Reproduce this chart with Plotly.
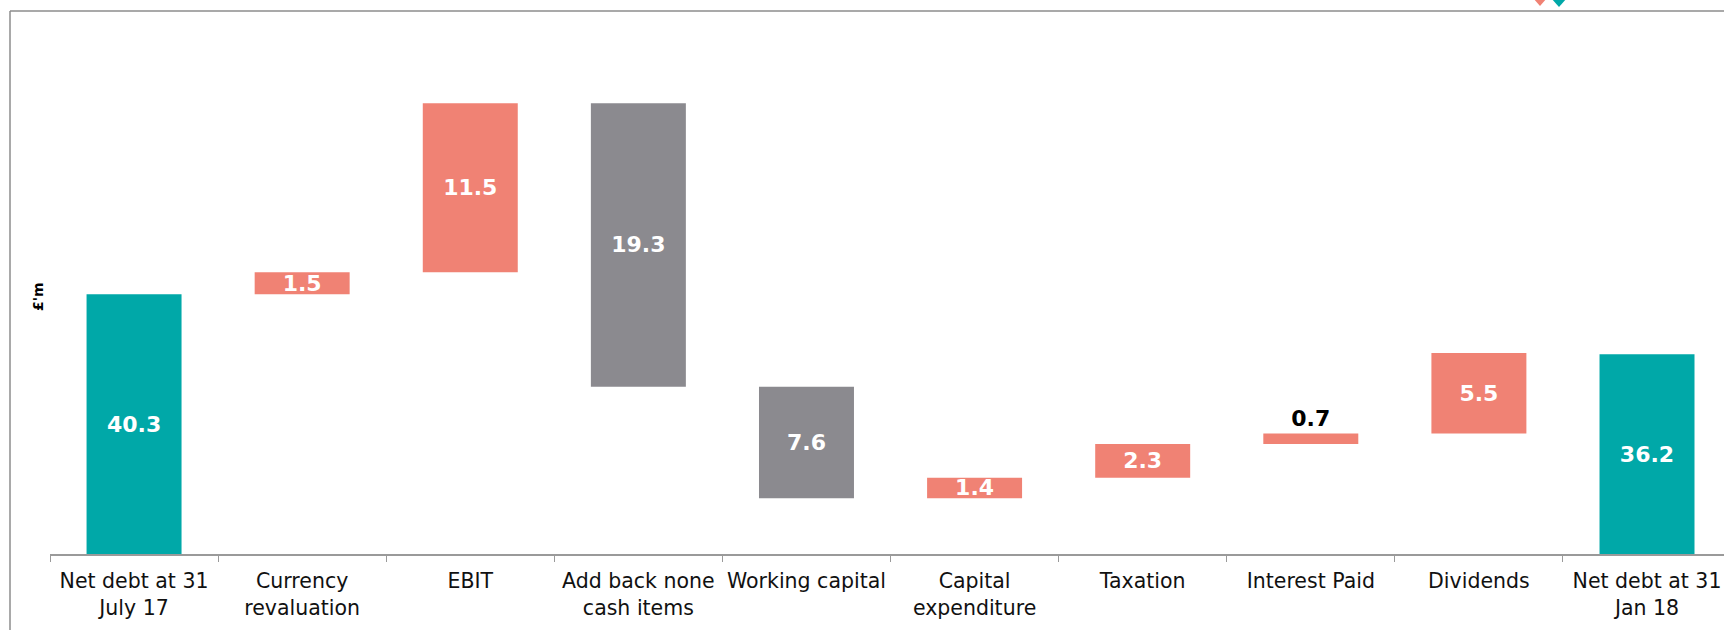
import plotly.graph_objects as go

categories = [
    "Net debt at 31<br>July 17", "Currency<br>revaluation", "EBIT",
    "Add back none<br>cash items", "Working capital", "Capital<br>expenditure",
    "Taxation", "Interest Paid", "Dividends", "Net debt at 31<br>Jan 18",
]
values = [40.3, 1.5, 11.5, -19.3, -7.6, 1.4, 2.3, 0.7, 5.5, 36.2]
measures = ["absolute"] + ["relative"] * 8 + ["absolute"]
labels = [f"{abs(v):.1f}" for v in values]
label_pos = ["inside"] * 7 + ["outside"] + ["inside"] * 2

AXIS_MIN = 22.6  # the value axis is truncated here
PX_PER_UNIT = 14.68

TEAL = "#00A8A8"
SALMON = "#F08274"
GREY = "#8B8A8F"
FONT = "DejaVu Sans"

W, H = 1724, 630
ML, MR, MT, MB = 50, 0, 20, 76
PW, PH = W - ML - MR, H - MT - MB


def px_x(px):
    return (px - ML) / PW


def px_y(py):
    return (H - MB - py) / PH


# bars drawn from the truncated axis minimum
y_plot = [v - AXIS_MIN if m == "absolute" else v for v, m in zip(values, measures)]

fig = go.Figure(go.Waterfall(
    x=categories,
    y=y_plot,
    base=AXIS_MIN,
    measure=measures,
    text=labels,
    textposition=label_pos,
    constraintext="none",
    insidetextanchor="middle",
    insidetextfont=dict(family=FONT, size=22, color="white", weight="bold"),
    outsidetextfont=dict(family=FONT, size=22, color="black", weight="bold"),
    increasing=dict(marker=dict(color=SALMON, line=dict(width=0))),
    decreasing=dict(marker=dict(color=GREY, line=dict(width=0))),
    totals=dict(marker=dict(color=TEAL, line=dict(width=0))),
    connector=dict(visible=False),
    hoverinfo="skip",
))

fig.update_layout(
    width=W, height=H,
    margin=dict(l=ML, r=MR, t=MT, b=MB, pad=0),
    paper_bgcolor="white", plot_bgcolor="white",
    showlegend=False,
    waterfallgap=0.435,
    font=dict(family=FONT, size=20, color="#111111"),
    xaxis=dict(
        type="category", range=[-0.5, 9.458],
        tickson="boundaries", ticks="outside", ticklen=6, tickwidth=1,
        tickcolor="#9a9a9a", showline=True, linecolor="#9a9a9a", linewidth=1.5,
        showgrid=False, zeroline=False, ticklabelstandoff=8,
        tickfont=dict(family=FONT, size=20.5, color="#111111"),
    ),
    yaxis=dict(
        range=[AXIS_MIN, AXIS_MIN + PH / PX_PER_UNIT], showticklabels=False,
        showgrid=False, zeroline=False, showline=False, ticks="",
    ),
    annotations=[dict(
        text="£'m", textangle=-90, xref="paper", yref="paper",
        x=px_x(38), y=px_y(297), xanchor="center", yanchor="middle",
        showarrow=False, font=dict(family=FONT, size=14, color="black", weight="bold"),
    )],
    shapes=[
        dict(type="line", xref="paper", yref="paper", x0=px_x(10), x1=px_x(W + 5),
             y0=px_y(11), y1=px_y(11), line=dict(color="#8c8c8c", width=1.5)),
        dict(type="line", xref="paper", yref="paper", x0=px_x(10), x1=px_x(10),
             y0=px_y(11), y1=px_y(H + 5), line=dict(color="#8c8c8c", width=1.5)),
        dict(type="path", xref="paper", yref="paper", fillcolor=SALMON, line=dict(width=0),
             path=f"M {px_x(1533)} {px_y(-2)} L {px_x(1547)} {px_y(-2)} L {px_x(1540)} {px_y(6)} Z"),
        dict(type="path", xref="paper", yref="paper", fillcolor=TEAL, line=dict(width=0),
             path=f"M {px_x(1551)} {px_y(-2)} L {px_x(1567)} {px_y(-2)} L {px_x(1559)} {px_y(7)} Z"),
    ],
)

fig.write_html("out.html")
